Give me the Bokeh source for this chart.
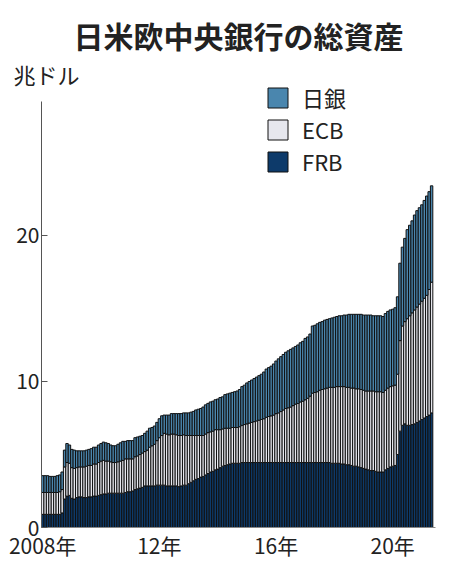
import pandas as pd
from bokeh.plotting import figure
from bokeh.models import (ColumnDataSource, FixedTicker, Legend, LegendItem, Range1d, Title)
from bokeh.embed import file_html
from bokeh.resources import INLINE

# ---- data (trillion USD, monthly, Jan 2008 - May 2021) ----
months = pd.date_range("2008-01-01", periods=161, freq="MS")

frb = [
    0.9, 0.9, 0.9, 0.9, 0.9, 0.9, 0.9, 0.9, 1.0, 1.95, 2.15, 2.2,
    2.0, 1.95, 2.05, 2.1, 2.1, 2.05, 2.05, 2.1, 2.1, 2.15, 2.15, 2.2,
    2.25, 2.3, 2.3, 2.35, 2.35, 2.35, 2.35, 2.35, 2.35, 2.35, 2.4, 2.45,
    2.45, 2.5, 2.6, 2.65, 2.7, 2.75, 2.85, 2.85, 2.85, 2.85, 2.85, 2.9,
    2.9, 2.9, 2.9, 2.85, 2.85, 2.85, 2.85, 2.85, 2.8, 2.85, 2.9, 2.9,
    3.0, 3.1, 3.2, 3.3, 3.35, 3.45, 3.5, 3.6, 3.7, 3.8, 3.85, 3.95,
    4.0, 4.1, 4.2, 4.25, 4.3, 4.35, 4.4, 4.4, 4.4, 4.4, 4.45, 4.45,
    4.45, 4.45, 4.45, 4.45, 4.45, 4.45, 4.45, 4.45, 4.45, 4.45, 4.45, 4.45,
    4.45, 4.45, 4.45, 4.45, 4.45, 4.45, 4.45, 4.45, 4.45, 4.45, 4.45, 4.45,
    4.45, 4.45, 4.45, 4.45, 4.45, 4.45, 4.45, 4.45, 4.45, 4.45, 4.45, 4.4,
    4.4, 4.4, 4.4, 4.35, 4.35, 4.3, 4.3, 4.25, 4.2, 4.2, 4.15, 4.1,
    4.05, 4.0, 3.95, 3.9, 3.9, 3.85, 3.8, 3.8, 3.8, 3.95, 4.05, 4.15,
    4.2, 4.25, 5.0, 6.6, 7.0, 7.1, 7.0, 7.0, 7.05, 7.1, 7.2, 7.3,
    7.4, 7.5, 7.6, 7.7, 7.85,
]

ecb = [
    1.5, 1.5, 1.5, 1.5, 1.5, 1.5, 1.5, 1.55, 1.6, 2.2, 2.3, 2.2,
    2.1, 2.1, 2.05, 2.05, 2.05, 2.1, 2.15, 2.15, 2.15, 2.2, 2.2, 2.25,
    2.3, 2.3, 2.25, 2.2, 2.15, 2.1, 2.1, 2.15, 2.2, 2.25, 2.3, 2.25,
    2.25, 2.2, 2.25, 2.25, 2.3, 2.35, 2.35, 2.45, 2.65, 2.75, 2.85, 3.05,
    3.25, 3.4, 3.55, 3.55, 3.5, 3.55, 3.55, 3.5, 3.5, 3.45, 3.45, 3.4,
    3.3, 3.2, 3.1, 3.0, 2.95, 2.85, 2.8, 2.8, 2.8, 2.75, 2.75, 2.75,
    2.7, 2.6, 2.55, 2.55, 2.5, 2.45, 2.45, 2.45, 2.45, 2.5, 2.55, 2.6,
    2.65, 2.7, 2.75, 2.8, 2.85, 2.9, 2.95, 3.0, 3.1, 3.15, 3.2, 3.25,
    3.35, 3.4, 3.5, 3.6, 3.7, 3.75, 3.8, 3.9, 4.0, 4.05, 4.15, 4.2,
    4.3, 4.4, 4.55, 4.75, 4.8, 4.85, 4.95, 5.0, 5.05, 5.1, 5.15, 5.2,
    5.2, 5.25, 5.25, 5.3, 5.3, 5.3, 5.3, 5.3, 5.35, 5.3, 5.35, 5.35,
    5.35, 5.35, 5.4, 5.45, 5.45, 5.45, 5.5, 5.5, 5.45, 5.45, 5.5, 5.5,
    5.5, 5.5, 5.5, 6.2, 6.8, 7.0, 7.3, 7.5, 7.65, 7.8, 7.9, 8.0,
    8.1, 8.2, 8.3, 8.6, 8.95,
]

boj = [
    1.15, 1.15, 1.15, 1.1, 1.1, 1.1, 1.15, 1.15, 1.2, 1.15, 1.3, 1.25,
    1.25, 1.25, 1.15, 1.1, 1.1, 1.1, 1.1, 1.1, 1.15, 1.15, 1.15, 1.2,
    1.2, 1.25, 1.25, 1.2, 1.15, 1.15, 1.15, 1.2, 1.25, 1.3, 1.2, 1.25,
    1.25, 1.25, 1.3, 1.3, 1.25, 1.2, 1.25, 1.3, 1.3, 1.25, 1.25, 1.25,
    1.3, 1.35, 1.25, 1.3, 1.35, 1.4, 1.4, 1.45, 1.5, 1.5, 1.5, 1.55,
    1.55, 1.6, 1.65, 1.75, 1.8, 1.85, 1.95, 2.0, 2.0, 2.05, 2.05, 2.05,
    2.1, 2.2, 2.2, 2.3, 2.35, 2.4, 2.4, 2.45, 2.5, 2.55, 2.65, 2.7,
    2.8, 2.85, 2.9, 2.95, 3.0, 3.05, 3.1, 3.2, 3.3, 3.35, 3.4, 3.5,
    3.6, 3.7, 3.75, 3.8, 3.85, 3.9, 3.95, 3.95, 3.95, 4.0, 4.05, 4.1,
    4.2, 4.2, 4.25, 4.6, 4.6, 4.65, 4.65, 4.65, 4.7, 4.7, 4.7, 4.75,
    4.8, 4.8, 4.85, 4.85, 4.9, 4.95, 5.0, 5.05, 5.05, 5.1, 5.1, 5.15,
    5.15, 5.2, 5.2, 5.2, 5.15, 5.2, 5.2, 5.2, 5.2, 5.25, 5.25, 5.25,
    5.25, 5.3, 5.3, 5.3, 5.4, 5.7, 6.1, 6.2, 6.3, 6.5, 6.6, 6.6,
    6.6, 6.7, 6.8, 6.7, 6.6,
]

series_names = ["FRB", "ECB", "日銀"]
series_colors = ["#0d3a6a", "#e6e7ee", "#4a86ae"]
tick_years = [2008, 2012, 2016, 2020]
tick_labels = ["2008年", "12年", "16年", "20年"]
y_ticks = [0, 10, 20]
y_axis_top = 29.2

FONT = "Noto Sans CJK JP"

idx = list(range(len(months)))
src = ColumnDataSource(dict(x=idx, frb=frb, ecb=ecb, boj=boj))

p = figure(width=450, height=571, output_backend="svg", toolbar_location=None,
           title_location=None,
           x_range=Range1d(-0.5, 161.6), y_range=Range1d(0, 30.75),
           min_border_left=41, min_border_right=15, min_border_top=78,
           min_border_bottom=44)
p.outline_line_color = None
p.xgrid.visible = False
p.ygrid.visible = False

rs = p.vbar_stack(["frb", "ecb", "boj"], x="x", width=1.0, source=src,
                  fill_color=series_colors, line_color="#111111", line_width=1.0)

# axes
yax = p.yaxis[0]
yax.ticker = FixedTicker(ticks=y_ticks)
yax.bounds = (0, y_axis_top)
yax.axis_line_color = "#555555"
yax.axis_line_width = 1
yax.major_tick_in = 6
yax.major_tick_out = 0
yax.major_tick_line_color = "#555555"
yax.minor_tick_line_color = None
yax.major_label_text_font = FONT
yax.major_label_text_font_size = "21px"
yax.major_label_text_color = "#222222"
yax.major_label_standoff = 2

tick_pos = [next(i for i, m in enumerate(months) if m.year == yv and m.month == 1) for yv in tick_years]
xax = p.xaxis[0]
xax.ticker = FixedTicker(ticks=tick_pos)
xax.major_label_overrides = {tp: lab for tp, lab in zip(tick_pos, tick_labels)}
xax.axis_line_color = "#888888"
xax.major_tick_in = 0
xax.major_tick_out = 0
xax.minor_tick_line_color = None
xax.major_label_text_font = FONT
xax.major_label_text_font_size = "21px"
xax.major_label_text_color = "#222222"
xax.major_label_standoff = 2

# unit label and title (side panels above the frame)
unit = Title(text="兆ドル", align="left", offset=-28, standoff=-23,
             text_font=FONT, text_font_size="22px", text_font_style="normal",
             text_color="#222222")
p.add_layout(unit, "above")
main = Title(text="日米欧中央銀行の総資産", align="center", offset=-12, standoff=21,
             text_font=FONT, text_font_size="30px", text_font_style="bold",
             text_color="#222222")
p.add_layout(main, "above")

# legend
items = [LegendItem(label=series_names[i], renderers=[rs[i]]) for i in (2, 1, 0)]
legend = Legend(items=items, location=(224, 350), orientation="vertical",
                glyph_width=25, glyph_height=25, label_height=25,
                label_standoff=12, spacing=-3, padding=0, margin=0,
                border_line_color=None, background_fill_alpha=0,
                label_text_font=FONT, label_text_font_size="22px",
                label_text_color="#222222", label_text_baseline="middle")
p.add_layout(legend)

open("out.html", "w").write(file_html(p, INLINE))
